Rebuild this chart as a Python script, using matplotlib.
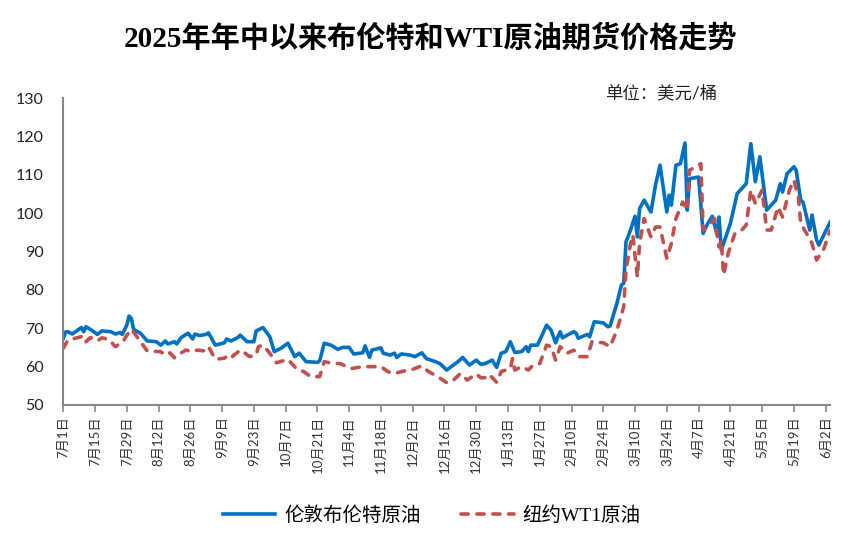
import pandas as pd
import matplotlib
matplotlib.use('Agg')
import matplotlib.pyplot as plt

# days counted from 2025-07-01, values in USD/bbl
start = pd.Timestamp('2025-07-01')

brent_day = [0, 1, 2, 4, 8, 9, 10, 13, 15, 17, 21, 23, 25, 26, 28, 29, 30, 31, 34, 37,
             41, 43, 45, 46, 49, 50, 52, 55, 57, 58, 60, 63, 64, 67, 71, 72, 74, 77, 78, 81,
             84, 85, 88, 91, 93, 96, 99, 102, 104, 107, 112, 113, 115, 118, 121, 123, 126, 128, 132, 133,
             135, 136, 140, 141, 144, 146, 147, 149, 153, 155, 158, 160, 164, 166, 169, 171, 174, 176, 179, 182,
             184, 186, 189, 191, 193, 195, 197, 199, 202, 204, 205, 206, 209, 211, 213, 215, 217, 218, 219, 220,
             222, 225, 226, 227, 231, 232, 234, 238, 240, 241, 244, 246, 247, 248, 250, 252, 253, 254, 256, 259,
             261, 263, 266, 267, 268, 270, 272, 274, 275, 276, 280, 282, 284, 286, 288, 289, 290, 291, 294, 297,
             301, 303, 305, 307, 310, 314, 316, 317, 319, 322, 323, 325, 326, 329, 330, 332, 333, 338]
brent_val = [67.4, 69.0, 69.1, 68.5, 70.2, 69.1, 70.4, 69.3, 68.4, 69.3, 69.1, 68.5, 68.9, 68.4, 70.8, 73.2, 72.6, 69.7, 68.7, 66.7,
             66.5, 65.6, 66.7, 65.9, 66.5, 65.9, 67.6, 68.7, 67.2, 68.5, 68.1, 68.4, 68.8, 65.6, 66.2, 67.2, 66.7, 67.6, 68.2, 66.5,
             66.5, 69.3, 70.2, 67.8, 63.9, 64.8, 66.1, 62.6, 63.5, 61.3, 61.1, 61.5, 66.1, 65.6, 64.5, 65.0, 65.0, 63.3, 63.6, 65.4,
             62.4, 64.3, 64.9, 63.5, 63.0, 63.5, 62.4, 63.3, 63.0, 62.6, 63.6, 62.1, 61.3, 60.8, 59.1, 60.0, 61.3, 62.4, 60.4, 61.7,
             60.6, 60.8, 61.7, 59.8, 63.5, 63.9, 66.5, 63.7, 63.9, 65.2, 63.9, 65.6, 65.6, 68.2, 70.8, 69.5, 66.2, 67.8, 69.1, 67.5,
             68.2, 69.1, 68.7, 67.4, 68.4, 67.8, 71.7, 71.4, 70.4, 70.6, 76.5, 81.3, 81.7, 92.5, 95.6, 99.2, 93.8, 101.2, 103.4, 100.3,
             107.3, 112.5, 100.3, 104.7, 102.1, 112.5, 112.9, 118.3, 100.8, 109.0, 109.4, 94.7, 97.3, 99.2, 94.7, 99.0, 90.4, 92.1, 97.3, 105.1,
             107.7, 118.1, 108.2, 114.7, 100.8, 103.4, 107.7, 105.5, 110.3, 112.1, 111.2, 103.4, 102.9, 95.6, 99.5, 93.0, 91.7, 97.7]

wti_day = [0, 2, 6, 9, 10, 12, 15, 17, 20, 23, 24, 26, 28, 30, 32, 34, 37, 43, 45, 47,
           49, 52, 54, 57, 59, 62, 64, 67, 71, 73, 74, 78, 80, 82, 85, 86, 88, 91, 94, 99,
           103, 106, 109, 113, 115, 119, 122, 127, 132, 135, 140, 143, 146, 149, 154, 158, 161, 165, 169, 172,
           175, 178, 182, 184, 187, 188, 191, 193, 197, 198, 199, 202, 205, 207, 210, 213, 215, 217, 219, 222,
           225, 227, 231, 233, 238, 241, 244, 247, 248, 250, 251, 253, 254, 256, 259, 261, 263, 266, 268, 270,
           273, 275, 276, 281, 282, 285, 287, 289, 290, 291, 293, 296, 299, 301, 303, 305, 308, 310, 312, 315,
           317, 320, 322, 324, 325, 328, 330, 332, 335, 338]
wti_val = [64.8, 66.9, 67.5, 68.0, 66.5, 67.6, 66.7, 67.5, 67.1, 65.2, 65.6, 66.2, 68.2, 69.7, 68.2, 66.5, 64.1, 63.9, 63.0, 63.6,
           62.3, 63.6, 64.3, 63.9, 64.3, 64.1, 65.2, 61.9, 62.2, 63.0, 62.4, 64.3, 63.6, 62.6, 63.0, 65.2, 65.6, 63.5, 61.0, 61.9,
           59.3, 58.7, 57.4, 57.4, 61.3, 60.8, 60.8, 59.5, 60.0, 60.0, 60.0, 58.7, 58.2, 58.7, 59.3, 60.2, 58.7, 57.4, 55.8, 56.5,
           58.2, 56.5, 58.1, 57.1, 57.1, 57.8, 55.9, 58.7, 59.5, 62.1, 59.1, 60.0, 59.1, 60.4, 60.8, 65.6, 65.2, 61.7, 65.2, 63.5,
           64.3, 62.6, 62.6, 66.5, 66.2, 65.2, 69.5, 75.6, 85.2, 92.1, 94.3, 83.4, 92.1, 98.6, 93.8, 96.4, 96.4, 88.2, 92.1, 98.6,
           102.9, 100.8, 111.2, 112.9, 95.6, 96.9, 98.6, 91.2, 93.0, 83.9, 89.5, 94.7, 95.6, 96.9, 106.0, 102.5, 106.0, 95.6, 95.6, 101.6,
           99.0, 106.0, 108.6, 104.2, 97.3, 94.3, 92.1, 87.8, 90.4, 95.5]

brent_date = start + pd.to_timedelta(brent_day, unit='D')
wti_date = start + pd.to_timedelta(wti_day, unit='D')

tick_dates = pd.date_range('2025-07-01', '2026-06-02', freq='14D')
tick_labels = [f'{d.month}月{d.day}日' for d in tick_dates]

cjk = ['Lato', 'Noto Sans CJK SC']
serif = ['Liberation Serif', 'Noto Sans CJK SC']

fig = plt.figure(figsize=(8.55, 5.51), dpi=100)
ax = fig.add_axes([0.074, 0.265, 0.897, 0.557])

ax.plot(brent_date, brent_val, color='#0070C0', lw=2.6, label='伦敦布伦特原油',
        solid_joinstyle='round')
ax.plot(wti_date, wti_val, color='#C0504D', lw=2.6, linestyle=(0, (2.0, 2.4)),
        dash_capstyle='round', label='纽约WT1原油')

ax.set_xlim(start, start + pd.Timedelta(days=338))
ax.set_ylim(50, 130)
ax.set_yticks(range(50, 131, 10))
ax.set_xticks(tick_dates)
ax.set_xticklabels(tick_labels, rotation=90, family=cjk, fontsize=9.5, color='#333333')
for lab in ax.get_yticklabels():
    lab.set_family(['Lato'])
    lab.set_fontsize(11.5)
    lab.set_color('#222222')

for s in ['top', 'right']:
    ax.spines[s].set_visible(False)
for s in ['left', 'bottom']:
    ax.spines[s].set_color('#868686')
    ax.spines[s].set_linewidth(1.5)
ax.tick_params(axis='y', length=0, pad=14)
ax.tick_params(axis='x', length=5, width=1.2, color='#868686', pad=3)

fig.text(0.503, 0.931, '2025年年中以来布伦特和WTI原油期货价格走势', ha='center', va='center',
         fontsize=21, fontweight='bold', family=serif)
fig.text(0.708, 0.831, '单位：美元/桶', ha='left', va='center', fontsize=12.5,
         family=cjk, color='#222222')

fig.legend(loc='center', bbox_to_anchor=(0.505, 0.065), ncol=2, frameon=False,
           prop={'family': serif, 'size': 14}, handlelength=2.7, handletextpad=0.45,
           columnspacing=2.1)

fig.savefig('out.png', dpi=100)
